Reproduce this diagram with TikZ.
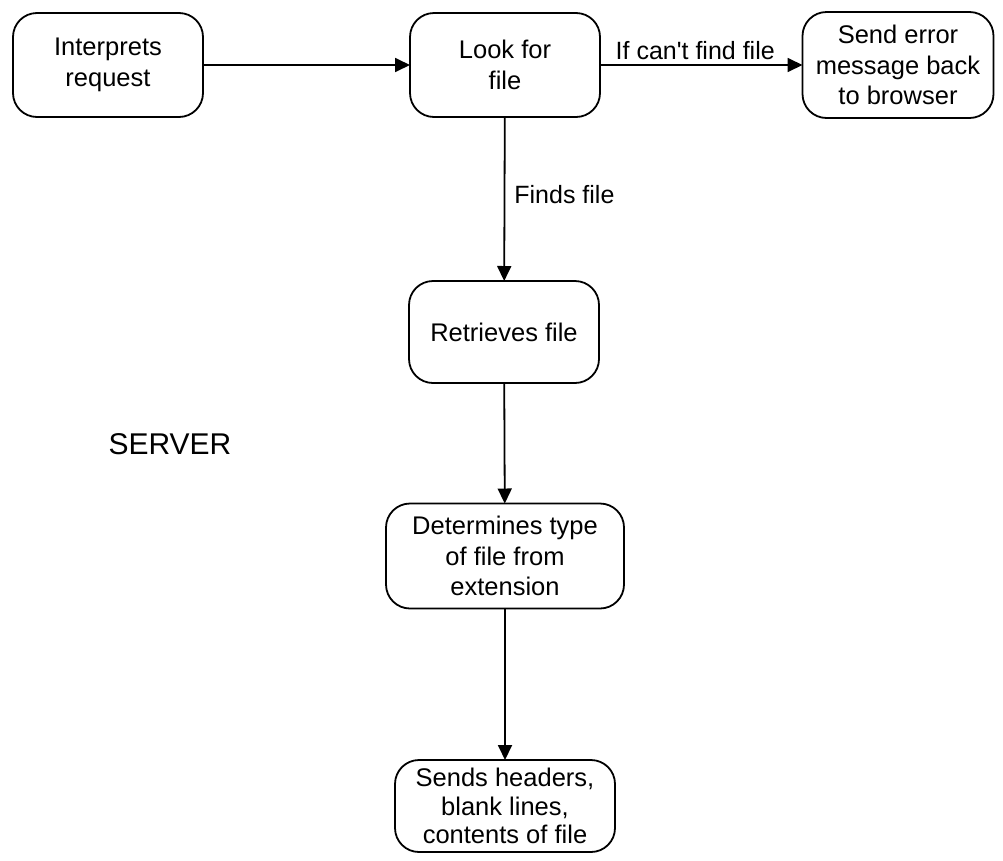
\documentclass[tikz,border=0pt]{standalone}
\usepackage{fontspec}
\setmainfont{Liberation Sans}
\usetikzlibrary{arrows.meta}
\begin{document}
\begin{tikzpicture}[x=1pt,y=-1pt,
  box/.style={draw, line width=1.8pt, rounded corners=24pt, align=center,
    inner sep=0pt, outer sep=0pt, font=\fontsize{25.5}{30.5}\selectfont},
  flow/.style={line width=1.8pt, -{Triangle[length=15pt,width=14pt]}},
  lbl/.style={font=\fontsize{25}{28}\selectfont}]
\useasboundingbox (0,0) rectangle (1003,860);
\node[box, minimum width=190pt, minimum height=104pt] (b1) at (108,65) {Interprets\\request};
\node[box, minimum width=190pt, minimum height=104pt] (b2) at (505,65) {Look for\\file};
\node[box, minimum width=191pt, minimum height=106pt] (b3) at (898,65) {Send error\\message back\\to browser};
\node[box, minimum width=190pt, minimum height=102pt] (b4) at (504,332) {Retrieves file};
\node[box, minimum width=238pt, minimum height=105pt] (b5) at (505,556) {Determines type\\of file from\\extension};
\node[box, minimum width=220pt, minimum height=92pt, font=\fontsize{25.5}{28.5}\selectfont] (b6) at (505,806) {Sends headers,\\blank lines,\\contents of file};
\node[font=\fontsize{30}{34}\selectfont] (srv) at (170,444) {SERVER};
\draw[flow] (b1) -- (b2);
\draw[flow] (b2) -- node[lbl, above, inner sep=4pt, xshift=-6pt] {If can\textquotesingle t find file} (b3);
\draw[flow] (b2) -- node[lbl, right, inner sep=9pt, yshift=4pt] {Finds file} (b4);
\draw[flow] (b4) -- (b5);
\draw[flow] (b5) -- (b6);
\end{tikzpicture}
\end{document}
